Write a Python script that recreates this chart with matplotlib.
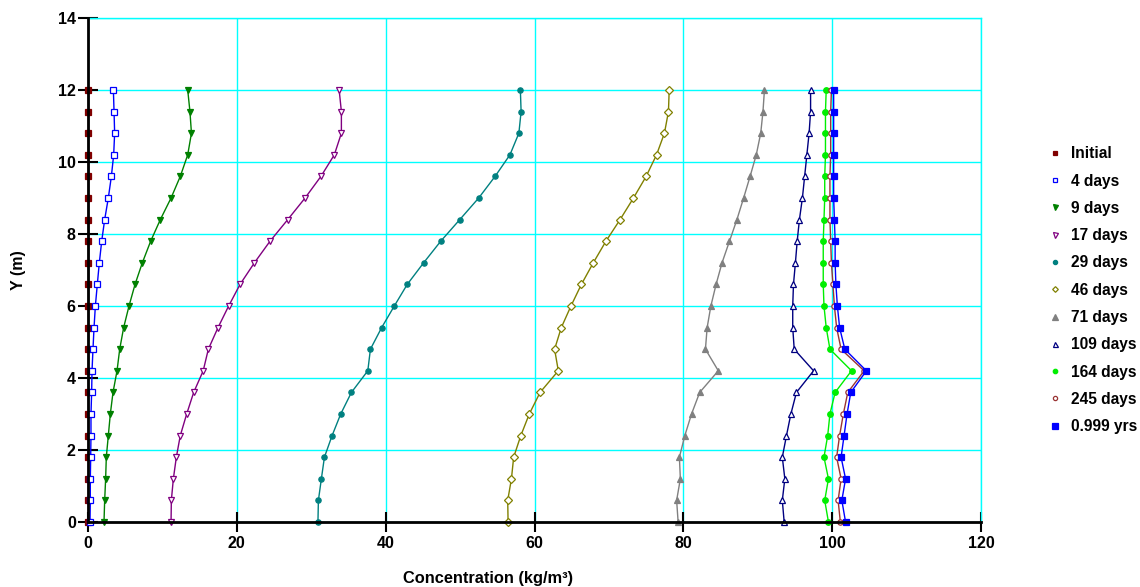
import numpy as np
import matplotlib
matplotlib.use("Agg")
import matplotlib.pyplot as plt
from matplotlib.lines import Line2D

plt.rcParams['font.family'] = ['Liberation Sans', 'DejaVu Sans']
plt.rcParams['font.weight'] = 'bold'

# Depth positions (m)
depth = [round(0.6 * i, 1) for i in range(21)]

# Concentration profiles (kg/m³), listed from y = 0 up to y = 12
initial = [0.0] * 21
d4 = [0.27, 0.31, 0.31, 0.36, 0.40, 0.40, 0.49, 0.54, 0.67, 0.81, 0.99,
      1.25, 1.52, 1.84, 2.24, 2.73, 3.14, 3.45, 3.58, 3.50, 3.41]
d9 = [2.15, 2.24, 2.37, 2.46, 2.73, 3.00, 3.36, 3.90, 4.26, 4.79, 5.51,
      6.32, 7.30, 8.42, 9.72, 11.16, 12.40, 13.40, 13.90, 13.70, 13.40]
d17 = [11.16, 11.20, 11.47, 11.87, 12.40, 13.26, 14.20, 15.48, 16.17, 17.47, 18.90,
       20.43, 22.36, 24.46, 26.84, 29.17, 31.30, 33.10, 34.05, 34.05, 33.75]
d29 = [30.90, 30.96, 31.36, 31.77, 32.80, 33.96, 35.40, 37.60, 37.95, 39.46, 41.16,
       42.90, 45.10, 47.40, 49.96, 52.50, 54.70, 56.70, 57.90, 58.20, 58.10]
d46 = [56.45, 56.40, 56.90, 57.20, 58.16, 59.30, 60.75, 63.20, 62.70, 63.60, 64.90,
       66.30, 67.90, 69.60, 71.50, 73.30, 75.00, 76.40, 77.46, 78.00, 78.10]
d71 = [79.30, 79.10, 79.60, 79.47, 80.20, 81.10, 82.20, 84.70, 82.97, 83.20, 83.70,
       84.40, 85.20, 86.20, 87.20, 88.10, 88.97, 89.80, 90.40, 90.70, 90.90]
d109 = [93.55, 93.30, 93.64, 93.30, 93.86, 94.45, 95.20, 97.50, 94.90, 94.70, 94.70,
        94.80, 95.06, 95.30, 95.60, 96.00, 96.30, 96.60, 96.90, 97.10, 97.10]
d164 = [99.50, 99.00, 99.50, 98.90, 99.40, 99.70, 100.40, 102.60, 99.70, 99.20, 98.90,
        98.80, 98.80, 98.80, 98.90, 99.00, 99.00, 99.10, 99.10, 99.10, 99.20]
d245 = [101.10, 100.80, 101.20, 100.60, 101.00, 101.50, 102.10, 104.30, 101.20, 100.60, 100.30,
        100.10, 99.90, 99.80, 99.70, 99.70, 99.70, 99.80, 99.80, 99.80, 99.90]
y1 = [101.80, 101.30, 101.80, 101.20, 101.60, 102.00, 102.50, 104.60, 101.70, 101.00, 100.70,
      100.50, 100.40, 100.40, 100.30, 100.20, 100.20, 100.20, 100.20, 100.20, 100.20]

labels = ['Initial', '4 days', '9 days', '17 days', '29 days', '46 days',
          '71 days', '109 days', '164 days', '245 days', '0.999 yrs']
series = [initial, d4, d9, d17, d29, d46, d71, d109, d164, d245, y1]

# colour, marker, filled, marker size
styles = [
    ('#800000', 's', True, 3.8),
    ('#0000FF', 's', False, 4.3),
    ('#008000', 'v', True, 4.5),
    ('#800080', 'v', False, 4.5),
    ('#008080', 'o', True, 3.8),
    ('#808000', 'D', False, 3.6),
    ('#808080', '^', True, 5.0),
    ('#000080', '^', False, 4.5),
    ('#00EE00', 'o', True, 4.0),
    ('#993333', 'o', False, 3.8),
    ('#0000FF', 's', True, 4.6),
]

fig = plt.figure(figsize=(11.4, 5.87), dpi=100)
ax = fig.add_axes([88 / 1140, 1 - 522 / 587, (981 - 88) / 1140, (522 - 18) / 587])

handles = []
for vals, lab, (c, m, filled, ms) in zip(series, labels, styles):
    mfc = c if filled else 'white'
    ax.plot(vals, depth, color=c, lw=1.0, marker=m, ms=ms, mfc=mfc, mec=c,
            mew=0.9, zorder=3, clip_on=False)
    handles.append(Line2D([], [], color=c, lw=0, marker=m, ms=ms * 0.8,
                          mfc=mfc, mec=c, mew=0.9, label=lab))

ax.set_xlim(0, 120)
ax.set_ylim(0, 14)
ax.set_xticks(np.arange(0, 121, 20))
ax.set_yticks(np.arange(0, 15, 2))
ax.grid(True, color='#00FFFF', lw=1.0, zorder=0)
ax.set_axisbelow(True)

for s in ('left', 'bottom'):
    ax.spines[s].set_linewidth(2.0)
    ax.spines[s].set_color('black')
    ax.spines[s].set_zorder(4)
for s in ('top', 'right'):
    ax.spines[s].set_linewidth(1.0)
    ax.spines[s].set_color('#00FFFF')

ax.tick_params(axis='both', direction='inout', length=14.5, width=1.5,
               color='black', labelsize=11.5)
ax.tick_params(axis='y', pad=1.5)
ax.tick_params(axis='x', pad=3)
for lab in ax.get_xticklabels() + ax.get_yticklabels():
    lab.set_fontweight('bold')

fig.text(488 / 1140, 1 - 578 / 587, 'Concentration (kg/m³)', ha='center',
         va='center', fontsize=11.8, fontweight='bold')
fig.text(18 / 1140, 1 - 270 / 587, 'Y (m)', ha='center', va='center',
         rotation=90, fontsize=11.5, fontweight='bold')

leg = fig.legend(handles=handles, loc='upper left',
                 bbox_to_anchor=(1041 / 1140, 1 - 140 / 587),
                 frameon=False, prop={'weight': 'bold', 'size': 11.2},
                 handlelength=1.0, handletextpad=0.55, labelspacing=0.79,
                 borderaxespad=0)

fig.savefig('out.png', dpi=100)
